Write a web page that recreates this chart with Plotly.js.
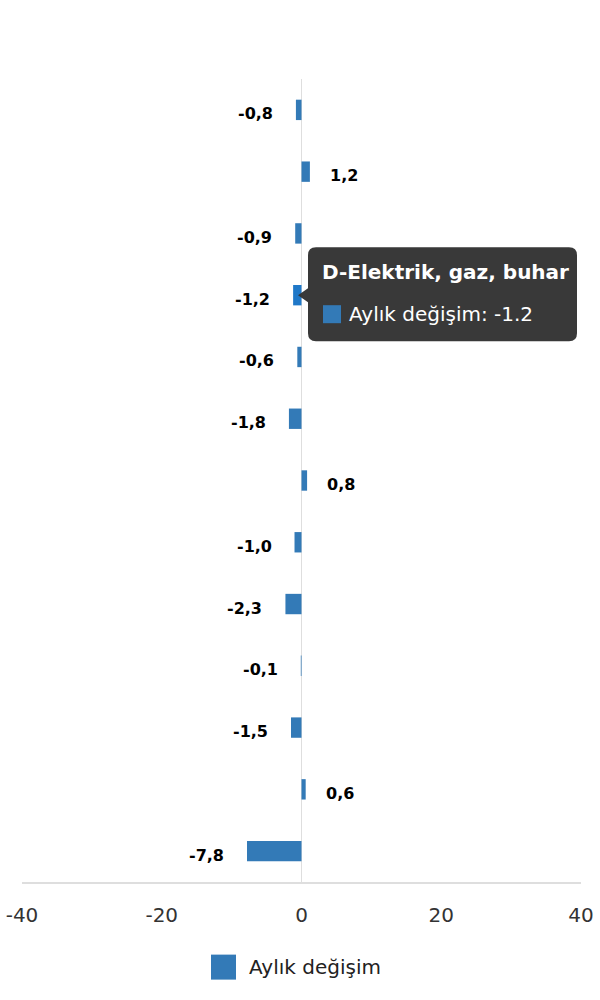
<!DOCTYPE html>
<html>
<head>
<meta charset="utf-8">
<script src="https://cdn.plot.ly/plotly-3.0.1.min.js"></script>
<style>
  html, body { margin: 0; padding: 0; background: #fff; }
  #chart { width: 600px; height: 1000px; }
</style>
</head>
<body>
<div id="chart"></div>
<script>
const categories = [
  "Toplam",
  "B-Madencilik ve taş ocakçılığı",
  "C-İmalat",
  "D-Elektrik, gaz, buhar",
  "E-Su temini",
  "F-İnşaat",
  "G-Toptan ve perakende ticaret",
  "H-Ulaştırma ve depolama",
  "I-Konaklama ve yiyecek hizmeti",
  "J-Bilgi ve iletişim",
  "L-Gayrimenkul faaliyetleri",
  "M-Mesleki, bilimsel ve teknik faaliyetler",
  "N-İdari ve destek hizmet faaliyetleri",
];
const monthlyChange = [-0.8, 1.2, -0.9, -1.2, -0.6, -1.8, 0.8, -1.0, -2.3, -0.1, -1.5, 0.6, -7.8];
const seriesName = "Aylık değişim";
const hoveredIndex = 3;
const xTicks = [-40, -20, 0, 20, 40];
const xTickText = ["-40", "-20", "0", "20", "40"];

const FONT = "DejaVu Sans, sans-serif";
const BAR = "#337ab7";
const BAR_HOVER = "#1f78c8";

const fmtComma = (v) => v.toFixed(1).replace(".", ",");

const trace = {
  type: "bar",
  orientation: "h",
  x: monthlyChange,
  y: categories,
  name: seriesName,
  marker: {
    color: monthlyChange.map((_, i) => (i === hoveredIndex ? BAR_HOVER : BAR)),
    line: { width: 0 },
  },
  hoverinfo: "none",
  showlegend: false,
};

// value labels next to the bar ends
const labels = monthlyChange.map((v, i) => ({
  x: v,
  y: categories[i],
  xref: "x",
  yref: "y",
  text: fmtComma(v),
  showarrow: false,
  xanchor: v < 0 ? "right" : "left",
  yanchor: "middle",
  xshift: v < 0 ? -21 : 18,
  yshift: -4,
  font: { family: FONT, size: 16, color: "#000", weight: "bold" },
}));

// tooltip for the hovered bar
const tipCat = categories[hoveredIndex];
const tipVal = monthlyChange[hoveredIndex];
const r = 8;
const L = 6.5, R = 275.5, T = 48, B = -46;
const tipPath =
  `M -3.5,0 L ${L},7 L ${L},${T - r} Q ${L},${T} ${L + r},${T} ` +
  `L ${R - r},${T} Q ${R},${T} ${R},${T - r} L ${R},${B + r} Q ${R},${B} ${R - r},${B} ` +
  `L ${L + r},${B} Q ${L},${B} ${L},${B + r} L ${L},-7 Z`;

const shapes = [
  {
    type: "path",
    xref: "x", yref: "y",
    xsizemode: "pixel", ysizemode: "pixel",
    xanchor: 0, yanchor: hoveredIndex,
    path: tipPath,
    fillcolor: "rgba(51,51,51,0.97)",
    line: { width: 0 },
    layer: "above",
  },
  {
    type: "rect",
    xref: "x", yref: "y",
    xsizemode: "pixel", ysizemode: "pixel",
    xanchor: 0, yanchor: hoveredIndex,
    x0: 21.5, x1: 39.5, y0: -28, y1: -10,
    fillcolor: BAR,
    line: { width: 0 },
    layer: "above",
  },
  // legend swatch
  {
    type: "rect",
    xref: "paper", yref: "paper",
    xsizemode: "pixel", ysizemode: "pixel",
    xanchor: 0.5, yanchor: -0.106,
    x0: -90.5, x1: -65.5, y0: -12.5, y1: 12.5,
    fillcolor: BAR,
    line: { width: 0 },
  },
];

const annotations = labels.concat([
  {
    x: 0, y: tipCat, xref: "x", yref: "y",
    text: tipCat,
    showarrow: false, xanchor: "left", yanchor: "middle",
    xshift: 18.5, yshift: 23,
    font: { family: FONT, size: 20, color: "#fff", weight: "bold" },
  },
  {
    x: 0, y: tipCat, xref: "x", yref: "y",
    text: `${seriesName}: ${tipVal}`,
    showarrow: false, xanchor: "left", yanchor: "middle",
    xshift: 45.5, yshift: -19,
    font: { family: FONT, size: 20, color: "#fff" },
  },
  {
    x: 0.5, y: -0.106, xref: "paper", yref: "paper",
    text: seriesName,
    showarrow: false, xanchor: "left", yanchor: "middle",
    xshift: -55,
    font: { family: FONT, size: 20, color: "#222" },
  },
]);

const layout = {
  width: 600,
  height: 1000,
  margin: { l: 22, r: 19, t: 79, b: 118 },
  paper_bgcolor: "#fff",
  plot_bgcolor: "#fff",
  bargap: 0.67,
  showlegend: false,
  xaxis: {
    range: [-40, 40],
    tickvals: xTicks,
    ticktext: xTickText,
    showgrid: false,
    zeroline: true,
    zerolinecolor: "#dedede",
    zerolinewidth: 1.5,
    showline: true,
    linecolor: "#dedede",
    linewidth: 1.5,
    ticks: "",
    ticklabelstandoff: 14,
    tickfont: { family: FONT, size: 20, color: "#333" },
    fixedrange: true,
  },
  yaxis: {
    type: "category",
    autorange: "reversed",
    showticklabels: false,
    showgrid: false,
    zeroline: false,
    showline: false,
    fixedrange: true,
  },
  shapes,
  annotations,
};

Plotly.newPlot("chart", [trace], layout, { displayModeBar: false, staticPlot: true });
</script>
</body>
</html>
